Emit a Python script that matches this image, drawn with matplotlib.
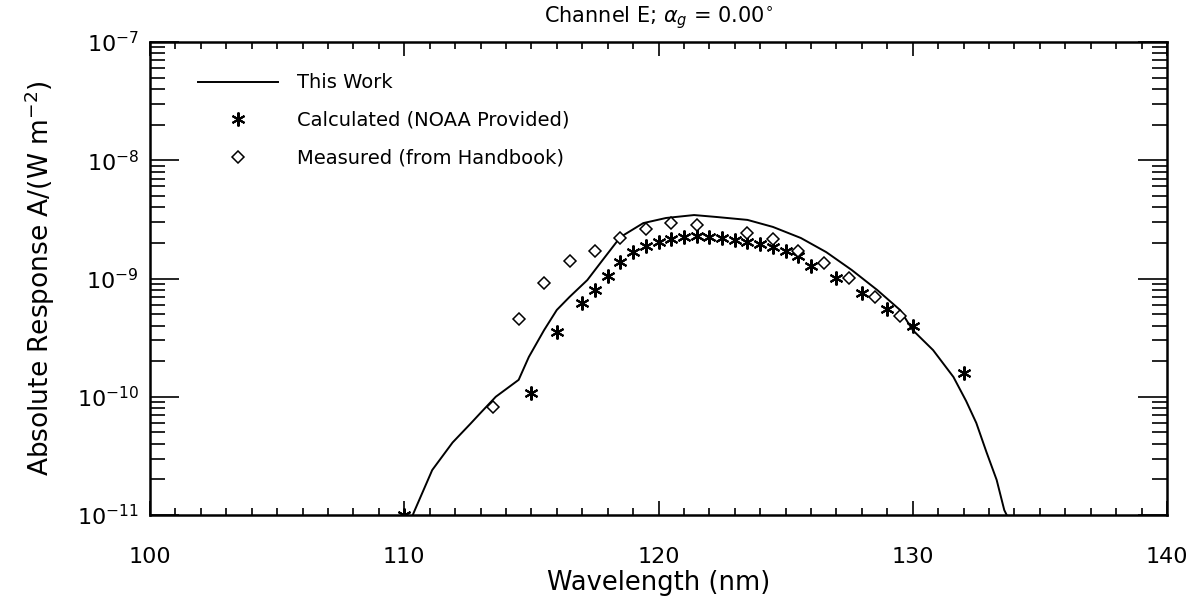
import matplotlib
matplotlib.use("Agg")
import matplotlib.pyplot as plt
from matplotlib.ticker import MultipleLocator, FixedLocator, NullFormatter

# --- "This Work" model curve ---
work_wl = [110.2, 110.4, 111.1, 111.9, 112.6, 113.0, 113.6, 114.5, 114.9, 115.5,
           116.0, 116.5, 117.2, 117.8, 118.5, 119.4, 120.3, 121.4, 122.3, 123.5,
           124.5, 125.6, 126.6, 127.6, 128.6, 129.5, 130.0, 130.8, 131.6, 132.1,
           132.5, 132.9, 133.3, 133.6, 133.8]
work_resp = [8.5e-12, 1.08e-11, 2.4e-11, 4.1e-11, 5.9e-11, 7.3e-11, 1.0e-10, 1.39e-10,
             2.17e-10, 3.66e-10, 5.42e-10, 6.98e-10, 9.7e-10, 1.43e-9, 2.24e-9,
             2.94e-9, 3.25e-9, 3.44e-9, 3.31e-9, 3.13e-9, 2.73e-9, 2.20e-9, 1.67e-9,
             1.18e-9, 8.0e-10, 5.42e-10, 3.66e-10, 2.48e-10, 1.47e-10, 9.2e-11,
             6.0e-11, 3.4e-11, 1.98e-11, 1.10e-11, 9.0e-12]

# --- Calculated response (NOAA provided) ---
calc_wl = [110.0, 115.0, 116.0, 117.0, 117.5, 118.0, 118.5, 119.0, 119.5, 120.0,
           120.5, 121.0, 121.5, 122.0, 122.5, 123.0, 123.5, 124.0, 124.5, 125.0,
           125.5, 126.0, 127.0, 128.0, 129.0, 130.0, 132.0]
calc_resp = [1.0e-11, 1.08e-10, 3.53e-10, 6.21e-10, 8.0e-10, 1.05e-9, 1.38e-9, 1.67e-9,
             1.88e-9, 2.04e-9, 2.16e-9, 2.24e-9, 2.29e-9, 2.24e-9, 2.20e-9, 2.12e-9,
             2.04e-9, 1.96e-9, 1.85e-9, 1.71e-9, 1.55e-9, 1.28e-9, 1.01e-9, 7.5e-10,
             5.5e-10, 3.96e-10, 1.59e-10]

# --- Measured response (from handbook) ---
meas_wl = [113.5, 114.5, 115.5, 116.5, 117.5, 118.5, 119.5, 120.5, 121.5, 123.5,
           124.5, 125.5, 126.5, 127.5, 128.5, 129.5]
meas_resp = [8.2e-11, 4.55e-10, 9.16e-10, 1.41e-9, 1.71e-9, 2.20e-9, 2.62e-9, 2.95e-9,
             2.83e-9, 2.43e-9, 2.16e-9, 1.71e-9, 1.35e-9, 1.01e-9, 6.98e-10, 4.82e-10]

x_ticks = [100, 110, 120, 130, 140]
y_ticks = [1e-11, 1e-10, 1e-9, 1e-8, 1e-7]
y_tick_labels = [r"$10^{-11}$", r"$10^{-10}$", r"$10^{-9}$", r"$10^{-8}$", r"$10^{-7}$"]

plt.rcParams["font.family"] = ["DejaVu Sans"]
plt.rcParams["mathtext.fontset"] = "dejavusans"

fig = plt.figure(figsize=(12.01, 6.06), dpi=100)
ax = fig.add_axes([150 / 1201, 1 - 515 / 606, (1167 - 150) / 1201, (515 - 42) / 606])

ax.plot(work_wl, work_resp, color="black", lw=1.4, label="This Work")
ax.plot(calc_wl, calc_resp, linestyle="none", marker=(6, 2, 0), markersize=10,
        markeredgewidth=1.5, color="black", label="Calculated (NOAA Provided)")
ax.plot(meas_wl, meas_resp, linestyle="none", marker="D", markersize=6,
        markerfacecolor="white", markeredgecolor="black", markeredgewidth=1.1,
        label="Measured (from Handbook)")

ax.set_yscale("log")
ax.set_xlim(100, 140)
ax.set_ylim(1e-11, 1e-7)

# decade majors, 2..9 minors on the log axis; 1 nm minors on the wavelength axis
minor_y = [m * 10.0 ** e for e in range(-11, -7) for m in range(2, 10)]
ax.xaxis.set_major_locator(FixedLocator(x_ticks))
ax.xaxis.set_minor_locator(MultipleLocator(1))
ax.set_xticklabels([str(v) for v in x_ticks])
ax.yaxis.set_major_locator(FixedLocator(y_ticks))
ax.set_yticklabels(y_tick_labels)
ax.yaxis.set_minor_locator(FixedLocator(minor_y))
ax.yaxis.set_minor_formatter(NullFormatter())

ax.tick_params(axis="both", which="both", direction="in", top=True, right=True,
               color="black", width=1.2)
ax.tick_params(axis="x", which="major", length=10, labelsize=16, pad=23)
ax.tick_params(axis="x", which="minor", length=5)
ax.tick_params(axis="y", which="major", length=21, labelsize=16, pad=8)
ax.tick_params(axis="y", which="minor", length=11)
for s in ax.spines.values():
    s.set_linewidth(1.8)

ax.set_xlabel("Wavelength (nm)", fontsize=18.5, labelpad=2)
ax.set_ylabel(r"Absolute Response A/(W m$^{-2}$)", fontsize=19, labelpad=14)
ax.set_title(r"Channel E; $\alpha_g$ = 0.00$^{\circ}$", fontsize=15, pad=14)

ax.legend(loc="upper left", bbox_to_anchor=(0.040, 0.95), frameon=False,
          fontsize=14, handlelength=4.1, handletextpad=0.95, labelspacing=0.95,
          borderaxespad=0)

fig.savefig("out.png", dpi=100)
